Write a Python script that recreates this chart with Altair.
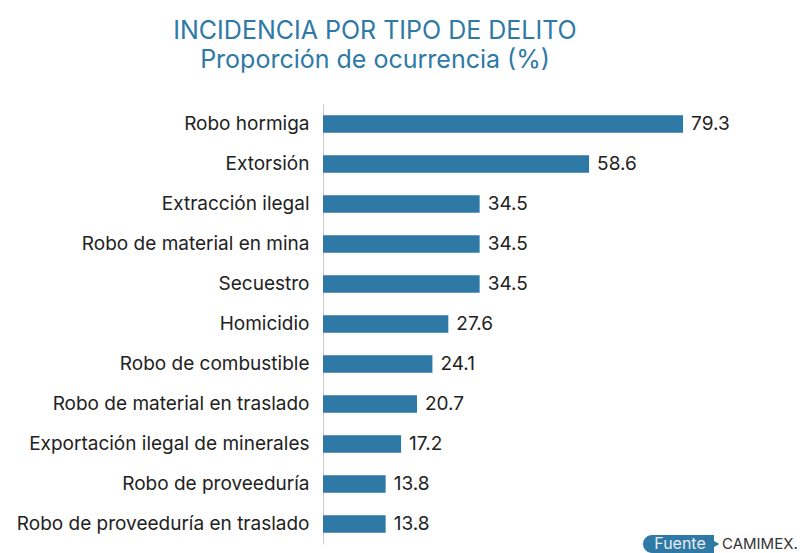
import altair as alt
import pandas as pd

categorias = [
    "Robo hormiga",
    "Extorsión",
    "Extracción ilegal",
    "Robo de material en mina",
    "Secuestro",
    "Homicidio",
    "Robo de combustible",
    "Robo de material en traslado",
    "Exportación ilegal de minerales",
    "Robo de proveeduría",
    "Robo de proveeduría en traslado",
]
valores = [79.3, 58.6, 34.5, 34.5, 34.5, 27.6, 24.1, 20.7, 17.2, 13.8, 13.8]

df = pd.DataFrame({"delito": categorias, "valor": valores})

FONT = "Inter"
BLUE = "#2e79a6"

y_enc = alt.Y("delito:N", sort=categorias, title=None,
              scale=alt.Scale(paddingInner=0.56, paddingOuter=0.28),
              axis=alt.Axis(ticks=False, domain=True, domainColor="#cccccc",
                            domainWidth=1, labelFontSize=19, labelFont=FONT,
                            labelColor="#222222", labelPadding=14,
                            labelLimit=400))
x_enc = alt.X("valor:Q", scale=alt.Scale(domain=[0, 92.5]), axis=None)

bars = alt.Chart(df).mark_bar(color=BLUE).encode(x=x_enc, y=y_enc)
labels = alt.Chart(df).mark_text(align="left", dx=8, fontSize=19, font=FONT,
                                 color="#222222").encode(
    x=x_enc, y=alt.Y("delito:N", sort=categorias),
    text=alt.Text("valor:Q", format=".1f"))

one = pd.DataFrame({"t": ["Fuente"]})
badge = alt.Chart(one).mark_rect(
    color=BLUE, cornerRadiusTopLeft=9, cornerRadiusBottomLeft=9).encode(
    x=alt.value(320), x2=alt.value(391), y=alt.value(431), y2=alt.value(449))
arrow = alt.Chart(one).mark_point(
    shape="triangle-right", filled=True, color=BLUE, size=150, opacity=1).encode(
    x=alt.value(391), y=alt.value(440))
badge_text = alt.Chart(one).mark_text(
    color="#e8eef4", fontSize=16, font=FONT, align="center", baseline="middle").encode(
    x=alt.value(357), y=alt.value(440), text="t:N")
src_text = alt.Chart(pd.DataFrame({"t": ["CAMIMEX."]})).mark_text(
    color="#333333", fontSize=15, font=FONT, align="left", baseline="middle").encode(
    x=alt.value(399), y=alt.value(440), text="t:N")

chart = alt.layer(bars, labels, badge, arrow, badge_text, src_text).properties(
    width=420, height=440,
    padding={"left": 315, "top": 96, "right": 55, "bottom": 9},
    autosize=alt.AutoSizeParams(type="none"),
    title=alt.TitleParams(
        text="INCIDENCIA POR TIPO DE DELITO",
        subtitle="Proporción de ocurrencia (%)",
        font=FONT, subtitleFont=FONT, fontSize=25, subtitleFontSize=25,
        fontWeight="normal", color=BLUE, subtitleColor=BLUE,
        anchor="middle", dx=-158, offset=31, subtitlePadding=4,
    ),
).configure_view(stroke=None)

chart.save("out.html", embed_options={"renderer": "svg", "actions": False})
